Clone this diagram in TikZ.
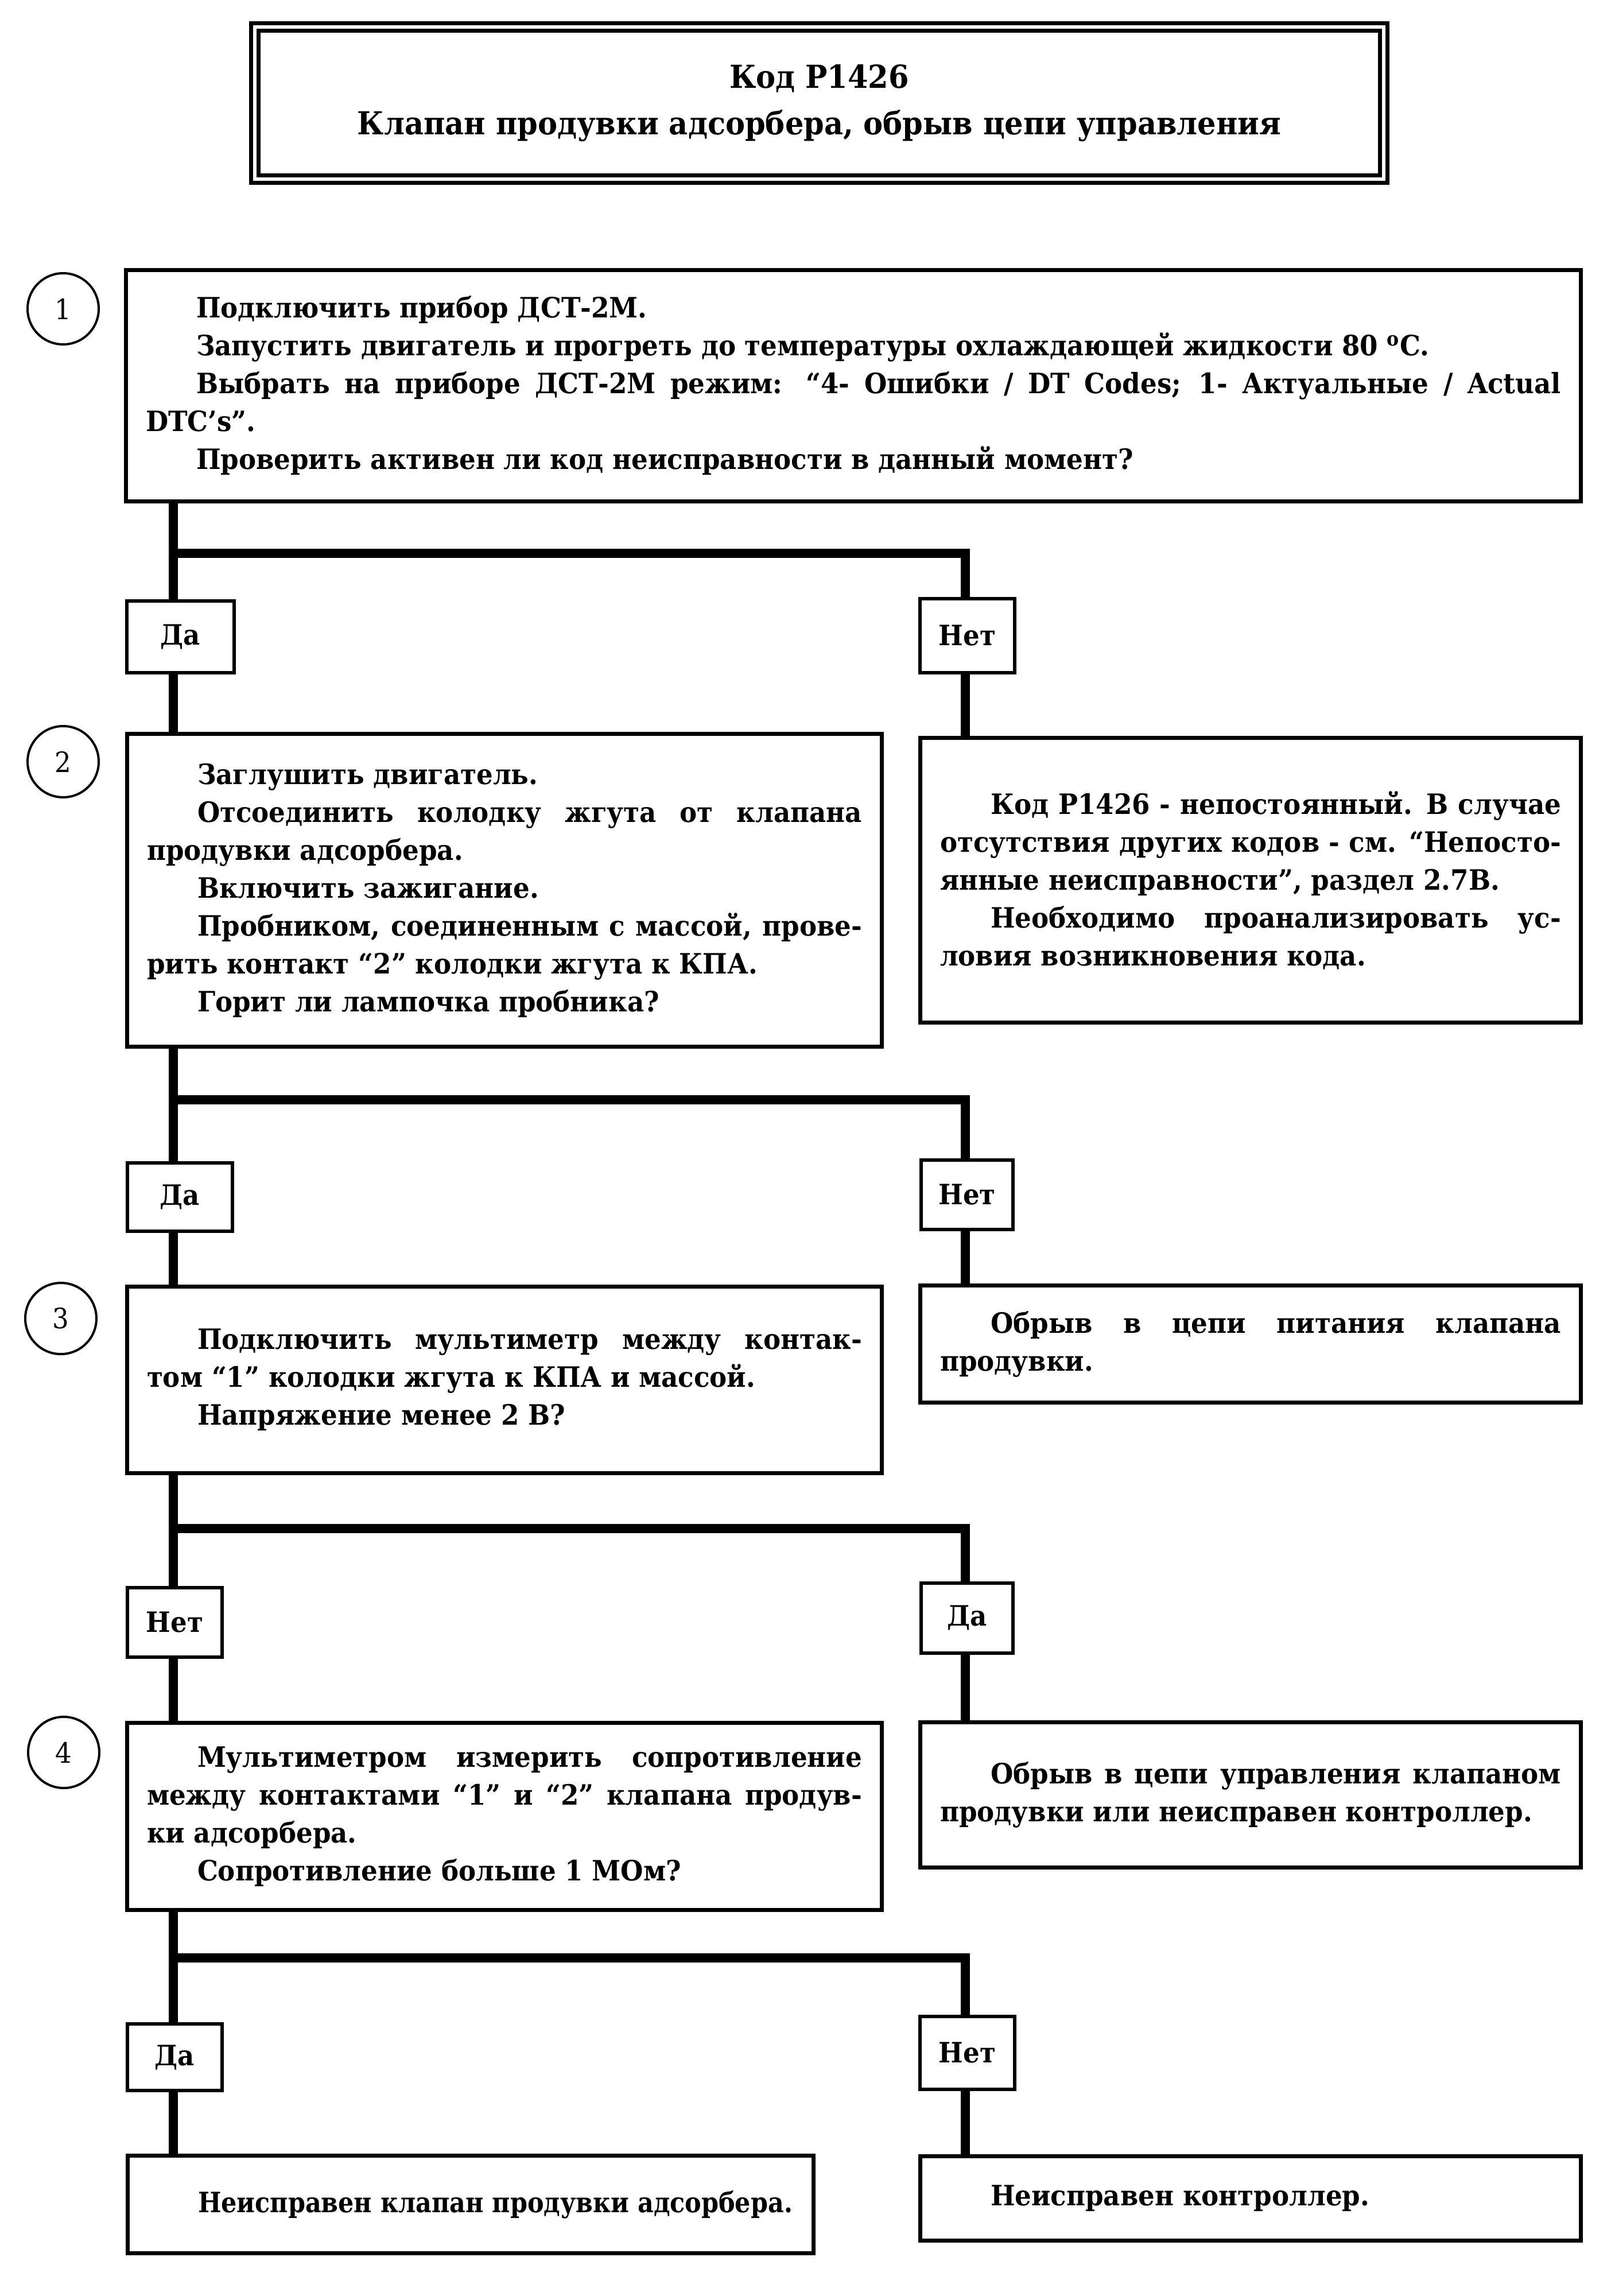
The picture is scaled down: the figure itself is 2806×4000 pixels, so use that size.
\documentclass[tikz,border=0pt]{standalone}
\usepackage{fontspec}
\usepackage{graphicx}
\setmainfont{DejaVu Serif}[FakeStretch=0.925]
\newlength\pind \setlength\pind{22pt}
\newcommand\ip{\hspace*{\pind}}
\newcommand\bodyf{\fontsize{12.2pt}{16.5pt}\selectfont\bfseries\tolerance=9999\relax\hyphenpenalty=10000\relax\exhyphenpenalty=10000\relax}
\newcommand\titlef{\fontsize{13.8pt}{20.2pt}\selectfont\bfseries}
\tikzset{
  tb/.style={draw, line width=1.75pt, inner sep=0pt, align=justify, font=\bodyf},
  lbl/.style={draw, line width=1.5pt, fill=white, inner sep=0pt, font=\bodyf},
  numc/.style={draw, circle, line width=1pt, minimum size=31pt, inner sep=0pt, font=\fontsize{12.2pt}{14pt}\selectfont},
  conn/.style={line width=4pt},
  titlebox/.style={draw, double, line width=1.75pt, double distance=1.5pt, inner sep=0pt, align=center, font=\titlef}
}
\newcommand\tbox[6]{\node[tb, minimum width={(#4-#2-7)*0.25pt}, minimum height={(#5-#3-7)*0.25pt}, text width={(#4-#2-76)*0.25pt}] (#1) at ({(#2+#4)/2},{(#3+#5)/2}) {#6};}
\newcommand\lbox[6]{\node[lbl, minimum width={(#4-#2-6)*0.25pt}, minimum height={(#5-#3-6)*0.25pt}] (#1) at ({(#2+#4)/2},{(#3+#5)/2}) {#6};}
\begin{document}
\begin{tikzpicture}[x=0.25pt, y=-0.25pt]
\useasboundingbox (0,0) rectangle (2806,4000);
% title
\node[titlebox, minimum width={(2411-444)*0.25pt}, minimum height={(312-47)*0.25pt}] (title) at (1427.5,179.5)
  {Код P1426\\Клапан продувки адсорбера, обрыв цепи управления};
% step numbers
\node[numc] (c1) at (110,538) {1};
\node[numc] (c2) at (110,1327) {2};
\node[numc] (c3) at (106,2297) {3};
\node[numc] (c4) at (111,3053) {4};
% boxes
\tbox{b1}{216}{467}{2758}{877}{\ip Подключить прибор ДСТ-2М.\par
\ip Запустить двигатель и прогреть до температуры охлаждающей жидкости 80 \textsuperscript{o}C.\par
\ip Выбрать на приборе ДСТ-2М режим: “4- Ошибки / DT Codes; 1- Актуальные / Actual\linebreak DTC's”.\par
\ip Проверить активен ли код неисправности в данный момент?}
\tbox{b2l}{218}{1275}{1540}{1827}{\ip Заглушить двигатель.\par
\ip Отсоединить колодку жгута от клапана\linebreak продувки адсорбера.\par
\ip Включить зажигание.\par
\ip Пробником, соединенным с массой, прове-\linebreak рить контакт “2” колодки жгута к КПА.\par
\ip Горит ли лампочка пробника?}
\tbox{b2r}{1600}{1282}{2758}{1785}{\ip Код P1426 - непостоянный. В случае\linebreak отсутствия других кодов - см. “Непосто-\linebreak янные неисправности”, раздел 2.7В.\par
\ip Необходимо проанализировать ус-\linebreak ловия возникновения кода.}
\tbox{b3l}{218}{2238}{1540}{2570}{\ip Подключить мультиметр между контак-\linebreak том “1” колодки жгута к КПА и массой.\par
\ip Напряжение менее 2 В?}
\tbox{b3r}{1600}{2236}{2758}{2447}{\ip Обрыв в цепи питания клапана\linebreak продувки.}
\tbox{b4l}{218}{2998}{1540}{3331}{\ip Мультиметром измерить сопротивление\linebreak между контактами “1” и “2” клапана продув-\linebreak ки адсорбера.\par
\ip Сопротивление больше 1 МОм?}
\tbox{b4r}{1600}{2997}{2758}{3257}{\ip Обрыв в цепи управления клапаном\linebreak продувки или неисправен контроллер.}
\tbox{b5l}{219}{3752}{1421}{3929}{\ip\scalebox{0.95}[1]{Неисправен клапан продувки адсорбера.}}
\tbox{b5r}{1600}{3753}{2758}{3907}{\ip Неисправен контроллер.}
% labels
\lbox{da1}{218}{1044}{411}{1175}{Да}
\lbox{n1}{1600}{1040}{1771}{1175}{Нет}
\lbox{da2}{219}{2023}{408}{2148}{Да}
\lbox{n2}{1602}{2018}{1768}{2145}{Нет}
\lbox{n3}{219}{2763}{390}{2890}{Нет}
\lbox{da3}{1602}{2755}{1768}{2883}{Да}
\lbox{da4}{219}{3523}{390}{3645}{Да}
\lbox{n4}{1600}{3510}{1771}{3643}{Нет}
% junctions
\coordinate (j1) at (302,964);  \coordinate (k1) at (1682,964);
\coordinate (j2) at (302,1916); \coordinate (k2) at (1682,1916);
\coordinate (j3) at (302,2663); \coordinate (k3) at (1682,2663);
\coordinate (j4) at (302,3411); \coordinate (k4) at (1682,3411);
% connectors
\draw[conn] (b1.south -| j1) -- (da1.north -| j1);
\draw[conn] (da1.south -| j1) -- (b2l.north -| j1);
\draw[conn] (j1) -- (k1) -- (n1.north -| k1);
\draw[conn] (n1.south -| k1) -- (b2r.north -| k1);
\draw[conn] (b2l.south -| j2) -- (da2.north -| j2);
\draw[conn] (da2.south -| j2) -- (b3l.north -| j2);
\draw[conn] (j2) -- (k2) -- (n2.north -| k2);
\draw[conn] (n2.south -| k2) -- (b3r.north -| k2);
\draw[conn] (b3l.south -| j3) -- (n3.north -| j3);
\draw[conn] (n3.south -| j3) -- (b4l.north -| j3);
\draw[conn] (j3) -- (k3) -- (da3.north -| k3);
\draw[conn] (da3.south -| k3) -- (b4r.north -| k3);
\draw[conn] (b4l.south -| j4) -- (da4.north -| j4);
\draw[conn] (da4.south -| j4) -- (b5l.north -| j4);
\draw[conn] (j4) -- (k4) -- (n4.north -| k4);
\draw[conn] (n4.south -| k4) -- (b5r.north -| k4);
\end{tikzpicture}
\end{document}
